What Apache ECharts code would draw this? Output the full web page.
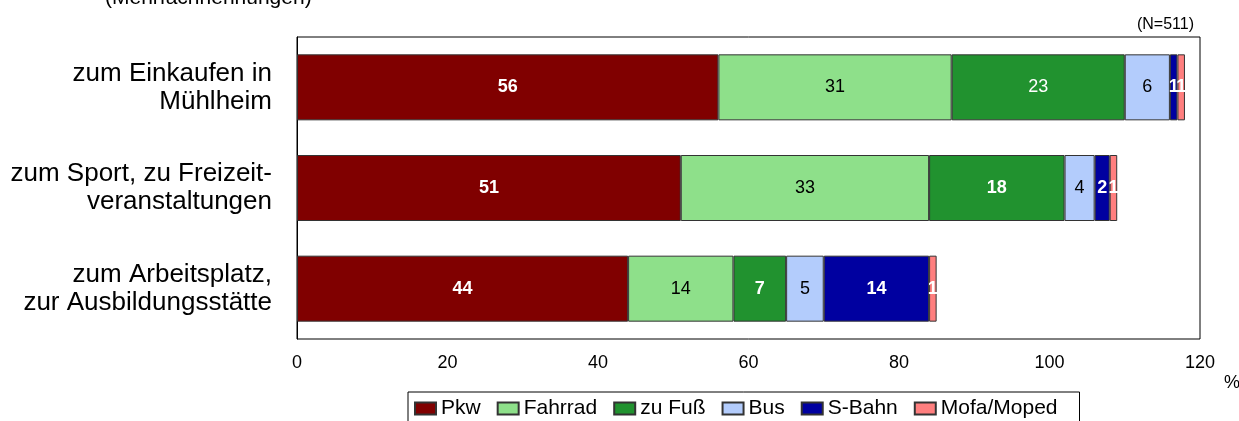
<!DOCTYPE html>
<html>
<head>
<meta charset="utf-8">
<script src="https://cdn.jsdelivr.net/npm/echarts@6/dist/echarts.min.js"></script>
<style>
  html, body { margin: 0; padding: 0; background: #fff; }
  #chart { width: 1239px; height: 421px; }
</style>
</head>
<body>
<div id="chart"></div>
<script>
// Kategorien (von oben nach unten)
const categories = [
  'zum Einkaufen in\nMühlheim',
  'zum Sport, zu Freizeit-\nveranstaltungen',
  'zum Arbeitsplatz,\nzur Ausbildungsstätte'
];

// Werte in %, je Verkehrsmittel
const pkw = [56, 51, 44];
const fahrrad = [31, 33, 14];
const zuFuss = [23, 18, 7];
const bus = [6, 4, 5];
const sBahn = [1, 2, 14];
const mofa = [1, 1, 1];

const xTicks = [0, 20, 40, 60, 80, 100, 120];

const FONT = '"Liberation Sans", Arial, sans-serif';

/**
 * Serie erzeugen
 * @param {string} name - Legendenname
 * @param {number[]} values - Werte
 * @param {string} color - Füllfarbe
 * @param {string} labelColor - Farbe der Beschriftung
 * @param {boolean[]} bold - fette Beschriftung je Balken
 */
const makeSeries = (name, values, color, labelColor, bold) => ({
  name,
  type: 'bar',
  stack: 'one',
  barWidth: 66,
  itemStyle: { color, borderColor: '#333', borderWidth: 1 },
  data: values.map((v, i) => ({
    value: v,
    label: { fontWeight: bold[i] ? 'bold' : 'normal' }
  })),
  label: {
    show: true,
    position: 'inside',
    color: labelColor,
    fontSize: 18,
    fontFamily: FONT
  }
});

const chart = echarts.init(document.getElementById('chart'));

const option = {
  animation: false,
  backgroundColor: '#fff',
  textStyle: { fontFamily: FONT },
  grid: {
    left: 297, right: 39, top: 37, bottom: 82,
    show: true, borderColor: '#000', borderWidth: 1
  },
  xAxis: {
    type: 'value',
    min: xTicks[0],
    max: xTicks[xTicks.length - 1],
    interval: 20,
    axisLine: { show: false },
    axisTick: { show: false },
    splitLine: { show: false },
    axisLabel: { color: '#000', fontSize: 18, margin: 15, fontFamily: FONT }
  },
  yAxis: {
    type: 'category',
    inverse: true,
    data: categories,
    axisLine: { show: true, lineStyle: { color: '#000' } },
    axisTick: { show: false },
    axisLabel: {
      color: '#000', fontSize: 26, lineHeight: 28, margin: 25,
      align: 'right', fontFamily: FONT
    }
  },
  legend: {
    left: 408,
    top: 392,
    orient: 'horizontal',
    icon: 'rect',
    itemWidth: 21,
    itemHeight: 12,
    itemGap: 16,
    padding: [6, 22, 12, 6],
    borderColor: '#000',
    borderWidth: 1,
    textStyle: { color: '#000', fontSize: 21, fontFamily: FONT },
    data: ['Pkw', 'Fahrrad', 'zu Fuß', 'Bus', 'S-Bahn', 'Mofa/Moped']
  },
  graphic: [
    {
      type: 'text', left: 105, top: -12,
      style: { text: '(Mehrfachnennungen)', fontSize: 21, fontFamily: FONT, fill: '#000' }
    },
    {
      type: 'text', right: 45, top: 17,
      style: { text: '(N=511)', fontSize: 16, fontFamily: FONT, fill: '#000' }
    },
    {
      type: 'text', left: 1224, top: 374,
      style: { text: '%', fontSize: 18, fontFamily: FONT, fill: '#000' }
    }
  ],
  series: [
    makeSeries('Pkw', pkw, '#800000', '#fff', [true, true, true]),
    makeSeries('Fahrrad', fahrrad, '#8ee08a', '#000', [false, false, false]),
    makeSeries('zu Fuß', zuFuss, '#21922f', '#fff', [false, true, true]),
    makeSeries('Bus', bus, '#b3ccfc', '#000', [false, false, false]),
    makeSeries('S-Bahn', sBahn, '#0000a0', '#fff', [true, true, true]),
    makeSeries('Mofa/Moped', mofa, '#ff7f7f', '#fff', [true, true, true])
  ]
};

chart.setOption(option);
</script>
</body>
</html>
